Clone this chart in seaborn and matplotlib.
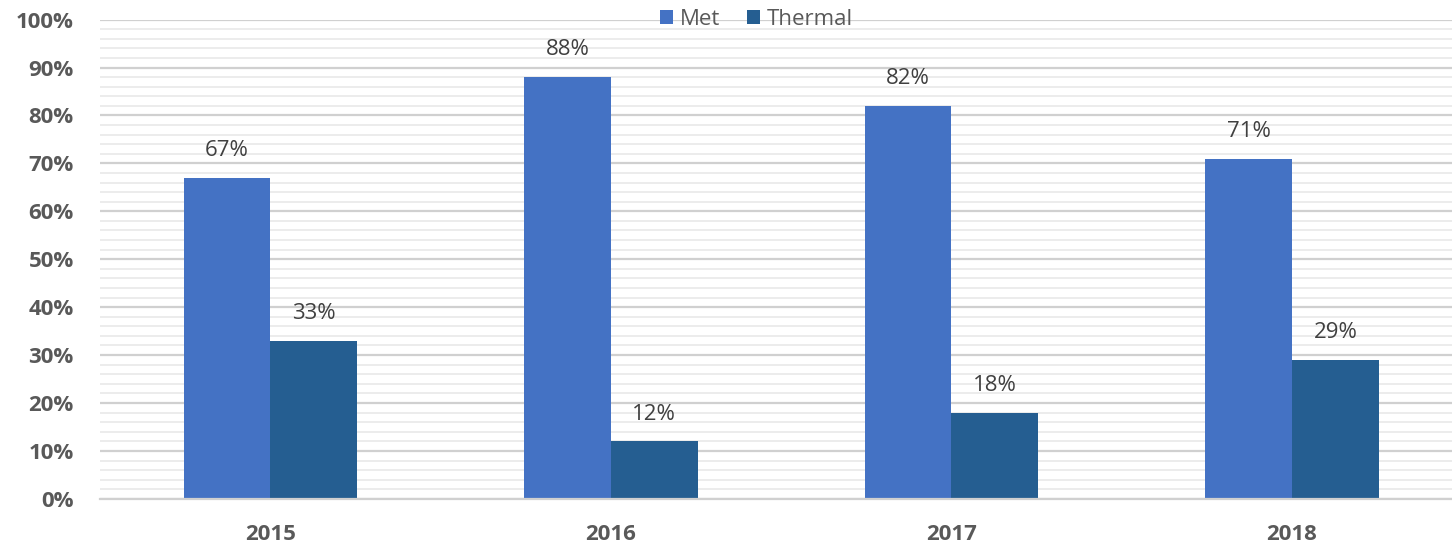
import seaborn as sns
import matplotlib.pyplot as plt
import pandas as pd
from matplotlib.ticker import MultipleLocator, PercentFormatter

years = ['2015', '2016', '2017', '2018']
met = [67, 88, 82, 71]
thermal = [33, 12, 18, 29]

df = pd.DataFrame({
    'year': years * 2,
    'share': met + thermal,
    'type': ['Met'] * len(years) + ['Thermal'] * len(years),
})

sns.set_style('white')
plt.rcParams['font.family'] = ['Open Sans', 'DejaVu Sans']

fig = plt.figure(figsize=(14.52, 5.44), dpi=100)
ax = fig.add_axes([0.069, 0.083, 0.938, 0.881])

sns.barplot(data=df, x='year', y='share', hue='type',
            palette={'Met': '#4472C4', 'Thermal': '#255E91'},
            width=0.51, gap=0, saturation=1, linewidth=0, ax=ax)

# grid: major every 10%, minor every 2%
ax.set_ylim(0, 100)
ax.yaxis.set_major_locator(MultipleLocator(10))
ax.yaxis.set_minor_locator(MultipleLocator(2))
ax.yaxis.set_major_formatter(PercentFormatter(decimals=0))
ax.grid(axis='y', which='major', color='#d0d0d0', linewidth=1.6)
ax.grid(axis='y', which='minor', color='#ececec', linewidth=1.4)
ax.set_axisbelow(True)
for s in ['left', 'right', 'top']:
    ax.spines[s].set_visible(False)
ax.spines['bottom'].set_color('#d0d0d0')
ax.spines['bottom'].set_linewidth(1.6)
ax.tick_params(axis='both', which='both', length=0, colors='#595959', labelsize=16)
ax.tick_params(axis='y', pad=19)
ax.tick_params(axis='x', pad=18)
for lbl in ax.get_xticklabels() + ax.get_yticklabels():
    lbl.set_fontweight('bold')
ax.set_xlabel('')
ax.set_ylabel('')

# data labels
for cont in ax.containers:
    ax.bar_label(cont, labels=[f'{v:.0f}%' for v in cont.datavalues],
                 padding=12, fontsize=16, color='#404040')

ax.legend(loc='center', bbox_to_anchor=(0.482, 1.0), ncol=2, frameon=False,
          fontsize=16, labelcolor='#595959', handlelength=0.6, handleheight=0.6,
          handletextpad=0.3, columnspacing=1.2)

plt.savefig('out.png', dpi=100)
